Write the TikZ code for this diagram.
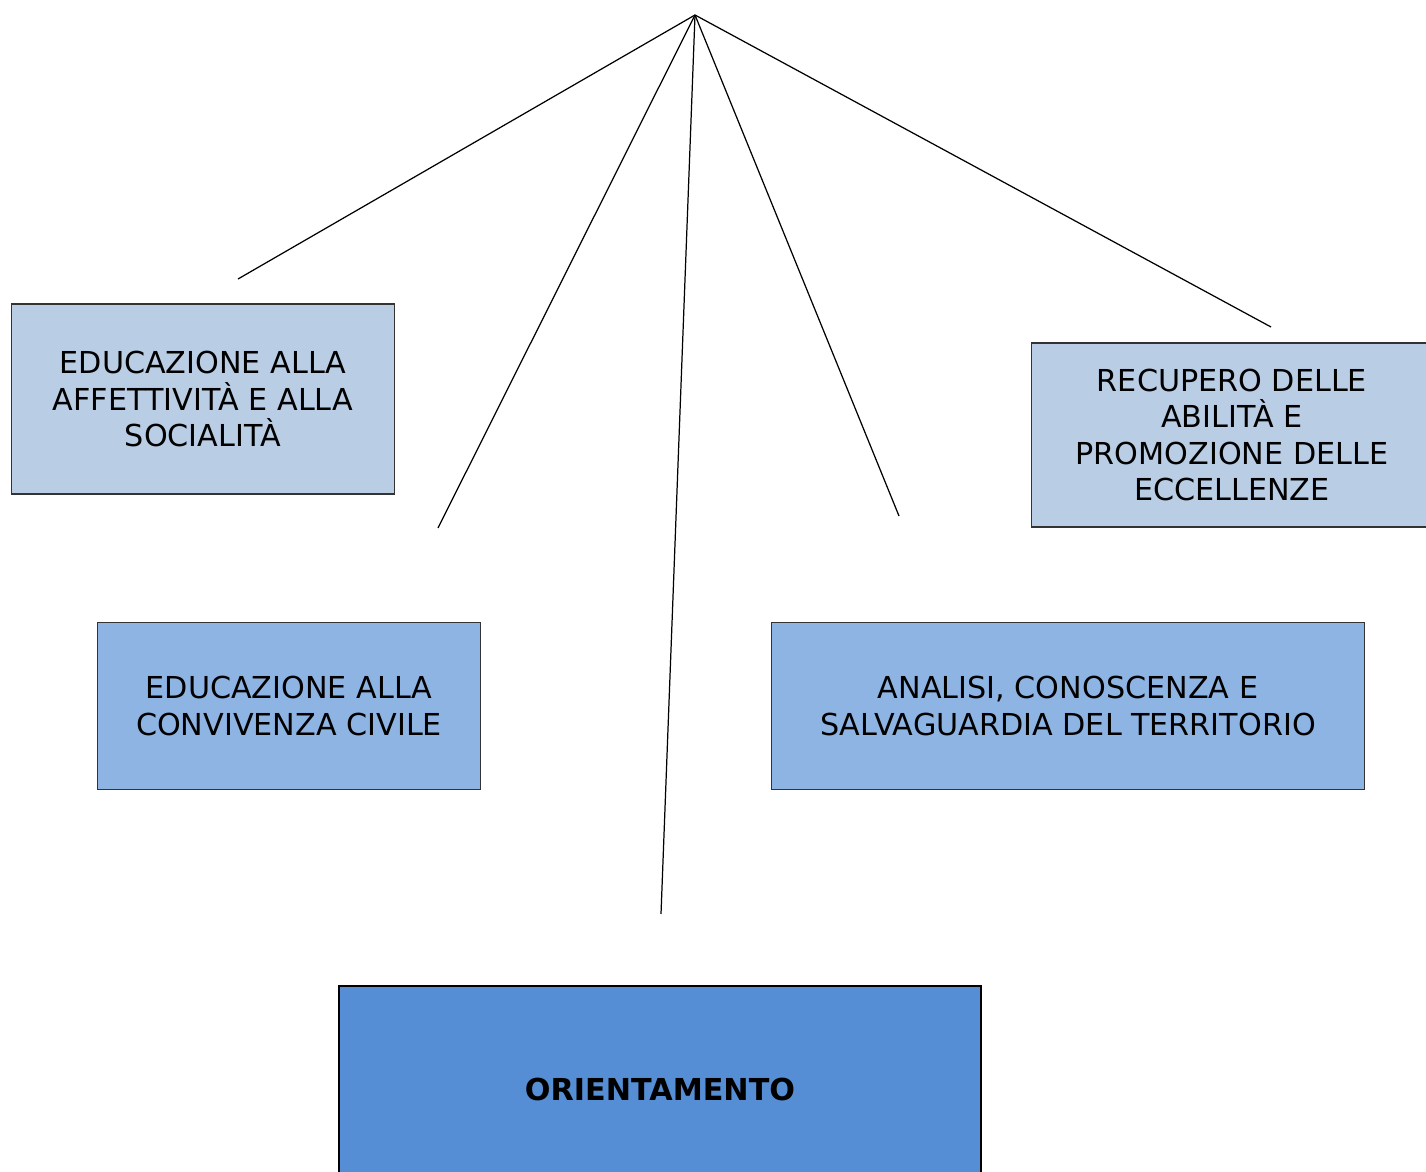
\documentclass[tikz,border=0pt]{standalone}
\usepackage{fontspec}
\setmainfont{DejaVu Sans}
\definecolor{paleblue}{HTML}{B9CDE5}
\definecolor{midblue}{HTML}{8EB4E3}
\definecolor{deepblue}{HTML}{558ED5}
\tikzset{
  topic/.style={rectangle, draw=black!80, line width=0.6pt, align=center,
    font=\fontsize{17.2}{20.5}\selectfont, inner sep=0pt},
  spoke/.style={line width=0.7pt}
}
\begin{document}
\begin{tikzpicture}[x=0.02cm, y=-0.02cm]
  \useasboundingbox (0, 0) rectangle (1426, 1172);
  \clip (0, 0) rectangle (1426, 1172);
  % Nodes
  \node (aff) [topic, fill=paleblue, minimum width=7.68cm, minimum height=3.8cm] at (203, 399) {EDUCAZIONE ALLA\\AFFETTIVITÀ E ALLA\\SOCIALITÀ};
  \node (rec) [topic, fill=paleblue, minimum width=8.04cm, minimum height=3.68cm] at (1232, 435) {RECUPERO DELLE\\ABILITÀ E\\PROMOZIONE DELLE\\ECCELLENZE};
  \node (conv) [topic, fill=midblue, minimum width=7.68cm, minimum height=3.34cm] at (289, 706) {EDUCAZIONE ALLA\\CONVIVENZA CIVILE};
  \node (terr) [topic, fill=midblue, minimum width=11.88cm, minimum height=3.34cm] at (1068, 706) {ANALISI, CONOSCENZA E\\SALVAGUARDIA DEL TERRITORIO};
  \node (ori) [topic, fill=deepblue, draw=black, line width=1.2pt, minimum width=12.84cm, minimum height=4.12cm, font=\fontsize{17.2}{20.5}\selectfont\bfseries] at (660, 1089) {ORIENTAMENTO};
  % Ends
  \coordinate (top) at (695, 15);
  \coordinate (e1) at (238, 279);
  \coordinate (e2) at (438, 528);
  \coordinate (e3) at (661, 914);
  \coordinate (e4) at (899, 516);
  \coordinate (e5) at (1271, 327);
  % Lines
  \draw[spoke] (top) -- (e1);
  \draw[spoke] (top) -- (e2);
  \draw[spoke] (top) -- (e3);
  \draw[spoke] (top) -- (e4);
  \draw[spoke] (top) -- (e5);
\end{tikzpicture}
\end{document}
